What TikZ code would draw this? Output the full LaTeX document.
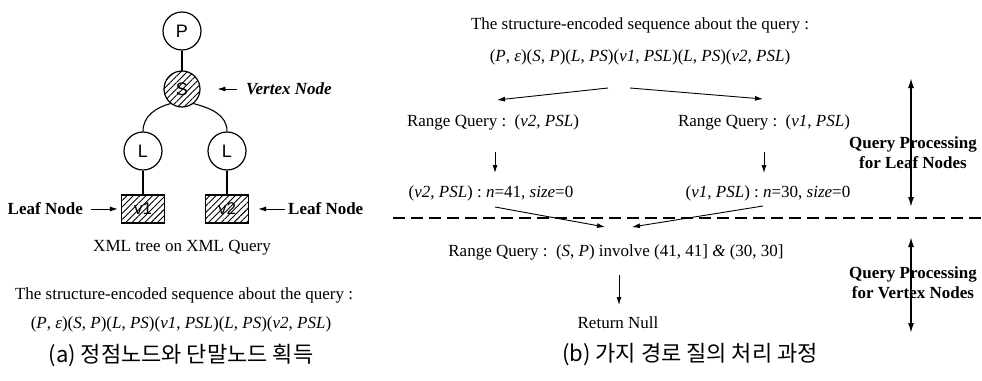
\documentclass[tikz,border=0pt]{standalone}
\usepackage{fontspec}
\setmainfont{Liberation Serif}
\newfontfamily\sansf{Liberation Sans}
\newfontfamily\krfont{Noto Sans CJK KR}
\usetikzlibrary{arrows.meta,patterns.meta,calc}

\begin{document}
\begin{tikzpicture}[x=1pt,y=-1pt,
  txt/.style={inner sep=0pt, font=\fontsize{17}{20}\selectfont},
  boldtxt/.style={inner sep=0pt, align=center, font=\fontsize{17}{20}\selectfont\bfseries},
  captext/.style={inner sep=0pt, font=\fontsize{22}{24}\selectfont\krfont},
  tnode/.style={circle, draw, line width=1.2pt, minimum size=38pt, inner sep=0pt,
    font=\fontsize{18}{18}\selectfont\sansf},
  hatch/.style={pattern={Lines[angle=45,distance=4.5pt,line width=0.9pt]}},
  leafbox/.style={rectangle, draw, line width=1.2pt, minimum width=43pt, minimum height=28pt,
    inner sep=0pt, font=\fontsize{17}{17}\selectfont\sansf},
  arr/.style={-{Latex[length=8pt,width=5pt]}, line width=0.9pt},
  dblarr/.style={{Latex[length=10pt,width=6pt]}-{Latex[length=10pt,width=6pt]}, line width=1.5pt},
  link/.style={line width=1.1pt},
  sepline/.style={line width=1.4pt, dash pattern=on 12pt off 6pt}
]
\fill[white] (0,0) rectangle (982,380);
\useasboundingbox (0,0) rectangle (982,380);

% ---------- (a) XML tree ----------
\node[tnode] (P) at (182,31) {P};
\node[tnode, minimum size=36pt, hatch] (S) at (182,89) {S};
\node[tnode] (L1) at (143,151) {L};
\node[tnode] (L2) at (227,151) {L};
\node[leafbox, hatch] (v1) at (143,209) {v1};
\node[leafbox, hatch] (v2) at (227,209) {v2};

\draw[link] (P) -- (S);
\draw[link] (S.232) to[out=195, in=90] (L1.north);
\draw[link] (S.308) to[out=-15, in=90] (L2.north);
\draw[link] (L1) -- (v1);
\draw[link] (L2) -- (v2);

\node[boldtxt, font=\fontsize{17}{20}\selectfont\bfseries\itshape, anchor=west] (vtx) at (246,89) {Vertex Node};
\draw[arr, shorten <=9pt, shorten >=17pt] (vtx.west) -- (S.east);
\node[boldtxt, anchor=east] (leafL) at (83,209) {Leaf Node};
\draw[arr, shorten <=8pt, shorten >=3pt] (leafL.east) -- (v1.west);
\node[boldtxt, anchor=west] (leafR) at (288,209) {Leaf Node};
\draw[arr, shorten <=3pt, shorten >=9pt] (leafR.west) -- (v2.east);

\node[txt] (xml) at (182,248) {XML tree on XML Query};
\node[txt] (seqTa) at (184,295) {The structure-encoded sequence about the query :};
\node[txt] (seqa) at (181,324) {(\textit{P}, \textit{ε})(\textit{S}, \textit{P})(\textit{L}, \textit{PS})(\textit{v1}, \textit{PSL})(\textit{L}, \textit{PS})(\textit{v2}, \textit{PSL})};
\node[captext] (capa) at (181,355) {(a) 정점노드와 단말노드 획득};

% ---------- (b) branch path query processing ----------
\node[txt] (seqTb) at (640,25) {The structure-encoded sequence about the query :};
\node[txt] (seqb) at (640,57) {(\textit{P}, \textit{ε})(\textit{S}, \textit{P})(\textit{L}, \textit{PS})(\textit{v1}, \textit{PSL})(\textit{L}, \textit{PS})(\textit{v2}, \textit{PSL})};
\node[txt] (rqL) at (493,122) {Range Query :~~(\textit{v2}, \textit{PSL})};
\node[txt] (rqR) at (764,122) {Range Query :~~(\textit{v1}, \textit{PSL})};
\node[txt] (resL) at (491,193) {(\textit{v2}, \textit{PSL}) : \textit{n}=41, \textit{size}=0};
\node[txt] (resR) at (768,193) {(\textit{v1}, \textit{PSL}) : \textit{n}=30, \textit{size}=0};
\node[txt] (rqV) at (616,252) {Range Query :~~(\textit{S}, \textit{P}) involve (41, 41] \textit{\&} (30, 30]};
\node[txt] (ret) at (618,323) {Return Null};
\node[captext] (capb) at (690,355) {(b) 가지 경로 질의 처리 과정};

\draw[arr] ($(seqb.center)+(-32,31)$) -- ($(rqL.center)+(4,-22)$);
\draw[arr] ($(seqb.center)+(-10,31)$) -- ($(rqR.center)+(-1,-23)$);
\draw[arr] ($(rqL.center)+(2,30)$) -- ($(rqL.center)+(2,51)$);
\draw[arr] ($(rqR.center)+(0,30)$) -- ($(rqR.center)+(0,51)$);
\draw[arr] ($(resL.center)+(4,14)$) -- ($(rqV.center)+(-11,-25)$);
\draw[arr] ($(resR.center)+(-5,13)$) -- ($(rqV.center)+(16,-25)$);
\draw[arr] ($(rqV.center)+(3,23)$) -- ($(ret.center)+(1,-18)$);

% phase separator
\coordinate (sepA) at (393,218);
\coordinate (sepB) at (982,218);
\draw[sepline] (sepA) -- (sepB);

% phase labels
\node[boldtxt] (qpL) at (913,153) {Query Processing\\for Leaf Nodes};
\node[boldtxt] (qpV) at (913,283) {Query Processing\\for Vertex Nodes};
\draw[dblarr] ($(qpL.center)+(-2,-75)$) -- ($(qpL.center)+(-2,54)$);
\draw[dblarr] ($(qpV.center)+(-2,-46)$) -- ($(qpV.center)+(-2,50)$);
\end{tikzpicture}
\end{document}
